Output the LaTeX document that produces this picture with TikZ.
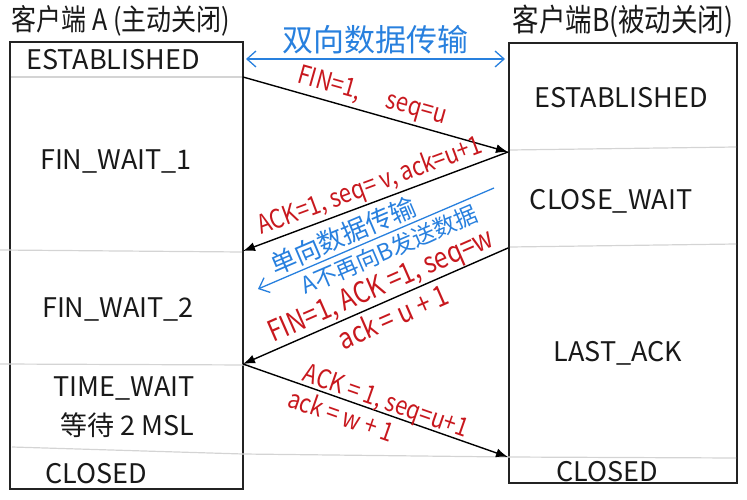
\documentclass[tikz,border=0pt]{standalone}
\usepackage{fontspec}
\usepackage{graphicx}
\setmainfont{Noto Sans CJK SC}
\usetikzlibrary{arrows.meta}
\definecolor{lblred}{RGB}{200,24,30}
\definecolor{lblblue}{RGB}{40,128,222}
\definecolor{divgray}{RGB}{212,212,212}
\definecolor{boxline}{RGB}{35,35,35}
\newcommand{\tallhand}[1]{\scalebox{1}[1.18]{#1}}
\tikzset{
  boxframe/.style={draw=boxline, line width=1.3pt},
  divider/.style={draw=divgray, line width=1.2pt},
  state/.style={font=\fontsize{27}{29}\selectfont, inner sep=0pt, text=black!90},
  titletext/.style={font=\fontsize{25}{27}\selectfont, inner sep=0pt, text=black!90},
  msg/.style={-{Latex[length=12pt,width=9pt]}, line width=1.4pt, draw=black},
  lbl/.style={text=lblred, font=\fontsize{22}{24}\selectfont, sloped, inner sep=1pt},
  lblbig/.style={lbl, font=\fontsize{24.5}{26}\selectfont},
  blbl/.style={text=lblblue, font=\fontsize{23}{25}\selectfont, sloped, inner sep=1pt},
  barrow/.style={draw=lblblue, line width=1.3pt}
}
\begin{document}
\begin{tikzpicture}[x=1pt,y=-1pt]
\useasboundingbox (0,0) rectangle (747,500);

% boxes
\draw[boxframe] (10,42) rectangle (243,489);
\draw[boxframe] (509,43) rectangle (737,483);

% dividers
\draw[divider] (11,77) -- (242,77);
\draw[divider] (0,250) -- (242,252);
\draw[divider] (0,364) -- (250,365);
\draw[divider] (12,447) -- (243,454) -- (508,457) -- (736,458);
\draw[divider] (510,150) -- (736,147);
\draw[divider] (510,247) -- (736,244);

% titles
\node[titletext] (tA) at (121,21) {\tallhand{客户端 A (主动关闭)}};
\node[titletext, font=\fontsize{26.5}{28}\selectfont] (tB) at (623,21) {\tallhand{客户端B(被动关闭)}};

% states A
\node[state] (sA1) at (113,60) {ESTABLISHED};
\node[state] (sA2) at (116,161) {FIN\_WAIT\_1};
\node[state] (sA3) at (118,309) {FIN\_WAIT\_2};
\node[state] (sA4) at (124,388) {TIME\_WAIT};
\node[state] (sA5) at (127,425) {等待 2 MSL};
\node[state] (sA6) at (96,474) {CLOSED};

% states B
\node[state] (sB1) at (621,98) {ESTABLISHED};
\node[state] (sB2) at (611,201) {CLOSE\_WAIT};
\node[state] (sB3) at (618,353) {LAST\_ACK};
\node[state] (sB4) at (607,472) {CLOSED};

% connector end points
\coordinate (a1) at (243,77);
\coordinate (a2) at (243,251);
\coordinate (a3) at (243,364);
\coordinate (b1) at (508,152);
\coordinate (b2) at (508,248);
\coordinate (b3) at (508,457);
\coordinate (dl) at (246,59);
\coordinate (dr) at (505,59);
\coordinate (bs) at (494,188);
\coordinate (be) at (258,289);

% bidirectional data
\draw[barrow, {Straight Barb[length=9pt,width=16pt]}-{Straight Barb[length=9pt,width=16pt]}] (dl) -- (dr);
\node[text=lblblue, font=\fontsize{31}{33}\selectfont, inner sep=0pt] (bi) at (375,40) {双向数据传输};

% messages
\draw[msg] (a1) -- node[lbl, pos=0.47, above=2pt] {\tallhand{FIN=1,\quad\ seq=u}} (b1);
\draw[msg] (b1) -- node[lbl, pos=0.5, above=1pt] {\tallhand{ACK=1, seq= v, ack=u+1}} (a2);
\draw[msg] (b2) -- node[lblbig, pos=0.455, above=-1pt] {\tallhand{FIN=1, ACK =1, seq=w}}
                   node[lblbig, pos=0.46, below=3pt] {\tallhand{ack = u + 1}} (a3);
\draw[msg] (a3) -- node[lbl, pos=0.525, above=-4pt] {\tallhand{ACK = 1, seq=u+1}}
                   node[lbl, pos=0.39, below=3pt] {\tallhand{ack = w + 1}} (b3);

% one-way data
\draw[barrow, -{Straight Barb[length=9pt,width=16pt]}] (bs) -- node[blbl, font=\fontsize{26}{28}\selectfont, pos=0.614, above=2pt] {单向数据传输}
                   node[blbl, pos=0.47, below=3pt] {A不再向B发送数据} (be);
\end{tikzpicture}
\end{document}
